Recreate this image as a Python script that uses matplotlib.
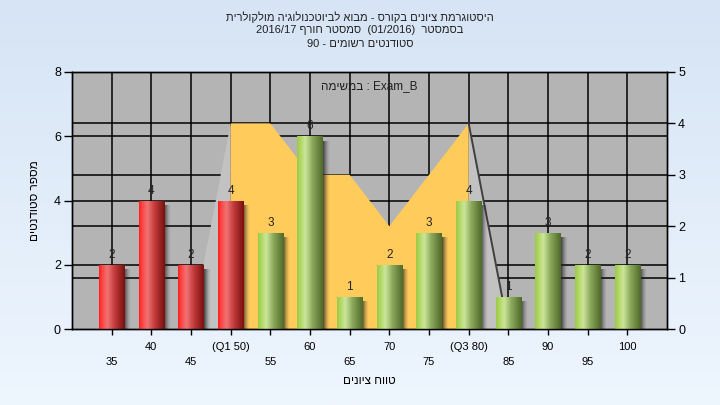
import numpy as np
import matplotlib
matplotlib.use('Agg')
import matplotlib.pyplot as plt
from matplotlib.colors import LinearSegmentedColormap
from matplotlib.transforms import blended_transform_factory

plt.rcParams['font.family'] = ['Liberation Sans', 'DejaVu Sans']

# נתוני ההיסטוגרמה
scores = [35, 40, 45, 50, 55, 60, 65, 70, 75, 80, 85, 90, 95, 100]
counts = [2, 4, 2, 4, 3, 6, 1, 2, 3, 4, 1, 3, 2, 2]
tick_labels = ['35', '40', '45', '(Q1 50)', '55', '60', '65', '70', '75', '(Q3 80)',
               '85', '90', '95', '100']
red_scores = [35, 40, 45, 50]

# האזור הצהוב (ציר ימני)
band_x = [50, 55, 60, 65, 70, 75, 80]
band_y = [4, 4, 3, 3, 2, 3, 4]
whisker_left_x = [45, 50]
whisker_left_y = [0, 4]
whisker_right_x = [80, 85]
whisker_right_y = [4, 0]

left_ticks = [0, 2, 4, 6, 8]
right_ticks = [0, 1, 2, 3, 4, 5]

title_lines = ['היסטוגרמת ציונים בקורס - מבוא לביוטכנולוגיה מולקולרית',
               'בסמסטר  (01/2016)  סמסטר חורף 2016/17',
               'סטודנטים רשומים - 90']
legend_text = 'Exam_B : במשימה'
x_title = 'טווח ציונים'
y_title = 'מספר סטודנטים'


def rtl(s):
    # matplotlib אינו תומך בכיווניות, הופכים ידנית
    out = []
    for tok in reversed(s.split(' ')):
        if any('\u0590' <= c <= '\u05ff' for c in tok):
            tok = tok[::-1]
        out.append(tok)
    return ' '.join(out)


fig = plt.figure(figsize=(7.2, 4.05), dpi=100)

# רקע מדורג
bg = fig.add_axes([0, 0, 1, 1], zorder=-10)
grad = np.linspace(0, 1, 256)[:, None]
top_c = np.array([214, 228, 245]) / 255
bot_c = np.array([238, 246, 254]) / 255
bg_img = top_c[None, None, :] * (1 - grad[:, :, None]) + bot_c[None, None, :] * grad[:, :, None]
bg.imshow(bg_img, aspect='auto', extent=(0, 1, 0, 1))
bg.axis('off')

ax = fig.add_axes([72 / 720, 1 - 329 / 405, (667 - 72) / 720, (329 - 72) / 405])
ax.set_facecolor('#b4b4b4')
ax2 = ax.twinx()
ax.set_xlim(30, 105)
ax.set_ylim(0, 8)
ax2.set_ylim(0, 5)

# קווי רשת
for t in left_ticks[1:]:
    ax.axhline(t, color='black', lw=1.1, zorder=0.5)
tr2 = blended_transform_factory(ax.transAxes, ax2.transData)
for t in right_ticks[1:]:
    ax.plot([0, 1], [t, t], transform=tr2, color='black', lw=1.1, zorder=0.5)
for s in scores:
    ax.axvline(s, color='black', lw=1.1, zorder=0.5)

# אזורים
ax.fill(whisker_left_x + [whisker_left_x[-1]], whisker_left_y + [0],
        color='#c2c2c2', lw=0, zorder=1, transform=ax2.transData)
ax.fill([whisker_right_x[0]] + whisker_right_x, [0] + whisker_right_y,
        color='#c2c2c2', lw=0, zorder=1, transform=ax2.transData)
ax.fill([band_x[0]] + band_x + [band_x[-1]], [0] + band_y + [0],
        color='#ffcc5c', lw=0, zorder=1.2, transform=ax2.transData)
ax.plot(whisker_right_x, whisker_right_y, color='#404040', lw=1.4, zorder=1.3,
        transform=ax2.transData)

red_cmap = LinearSegmentedColormap.from_list('r', [
    (0.0, '#ff1e1e'), (0.1, '#ff4040'), (0.32, '#f07474'),
    (0.6, '#c43c3c'), (1.0, '#7a1010')])
green_cmap = LinearSegmentedColormap.from_list('g', [
    (0.0, '#9ccb48'), (0.12, '#b0d660'), (0.32, '#cce69a'),
    (0.6, '#8aa85a'), (1.0, '#506a2a')])

bw = 3.2
bars = ax.bar(scores, counts, width=bw, color='none', lw=0, zorder=3)
hgrad = np.linspace(0, 1, 64)[None, :]
shadow = np.zeros((1, 32, 4))
shadow[..., :3] = 0.12
shadow[..., 3] = np.linspace(0.85, 0.0, 32) ** 1.5
for s, v, b in zip(scores, counts, bars):
    x0 = s - bw / 2
    ax.imshow(shadow, aspect='auto', interpolation='bilinear',
              extent=(x0 + bw, x0 + bw + 0.8, -0.12, v - 0.15), zorder=2.5)
    cm = red_cmap if s in red_scores else green_cmap
    im = ax.imshow(hgrad, cmap=cm, aspect='auto', interpolation='bilinear',
                   extent=(x0, x0 + bw, 0, v), zorder=3)
    im.set_clip_path(b)
    ax.text(s, v + 0.12, str(v), ha='center', va='bottom', fontsize=8.5,
            color='#222222', zorder=4)

ax.set_xlim(30, 105)
ax.set_ylim(0, 8)
ax2.set_ylim(0, 5)

# צירים
ax.set_yticks(left_ticks)
ax2.set_yticks(right_ticks)
ax.tick_params(axis='y', length=6, width=1, labelsize=9, pad=2)
ax2.tick_params(axis='y', length=6, width=1, labelsize=9, pad=2)
ax.set_xticks(scores[1::2], tick_labels[1::2])
ax.set_xticks(scores[0::2], tick_labels[0::2], minor=True)
ax.tick_params(axis='x', which='major', length=4, width=1, labelsize=8, pad=5)
ax.tick_params(axis='x', which='minor', length=4, width=1, labelsize=8, pad=16)
for sp in list(ax.spines.values()) + list(ax2.spines.values()):
    sp.set_color('black')
    sp.set_linewidth(1)

ax.set_xlabel(rtl(x_title), fontsize=8.5)
ax.xaxis.set_label_coords(0.5, -(381 - 329) / 257)
ax.xaxis.label.set_va('center')
ax.set_ylabel(rtl(y_title), fontsize=8.5)
ax.yaxis.set_label_coords(-0.062, 0.5)
ax.yaxis.label.set_va('center')

ax.text(0.5, 0.947, rtl(legend_text), transform=ax.transAxes, ha='center',
        va='center', fontsize=8.5, color='#202020', zorder=5)

for line, y in zip(title_lines, [17, 30, 44]):
    fig.text(0.5, 1 - y / 405, rtl(line), ha='center', va='center',
             fontsize=8, color='#202020')

fig.savefig('out.png', dpi=100)
